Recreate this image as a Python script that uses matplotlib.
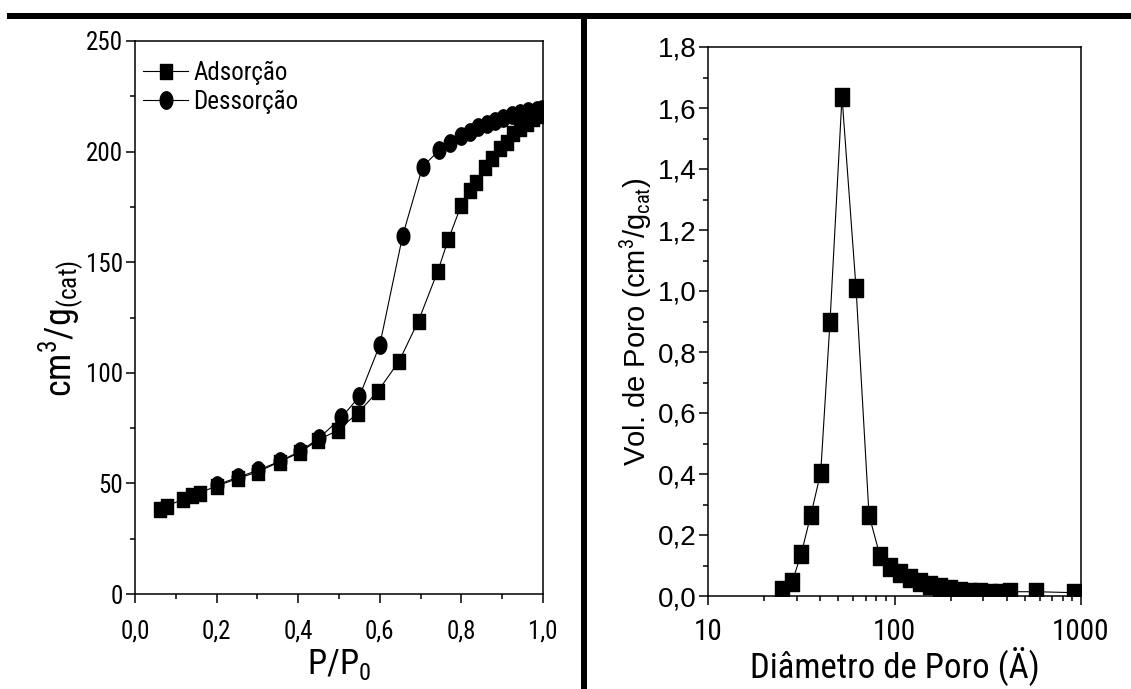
import matplotlib
matplotlib.use("Agg")
import matplotlib.pyplot as plt
import matplotlib.patches as mpatches
from matplotlib.ticker import MultipleLocator, FixedLocator, LogLocator, NullFormatter
import numpy as np

NARROW = ["Roboto Condensed", "Liberation Sans"]
NORMAL = ["Liberation Sans", "DejaVu Sans"]
plt.rcParams["mathtext.fontset"] = "custom"
plt.rcParams["mathtext.rm"] = "Roboto Condensed"

# ── isoterma (esquerda) ────────────────────────────────────────────
p_ads = [0.061, 0.078, 0.118, 0.139, 0.159, 0.200, 0.253, 0.302, 0.355, 0.404,
         0.449, 0.498, 0.547, 0.596, 0.648, 0.695, 0.742, 0.768, 0.800, 0.821,
         0.837, 0.858, 0.874, 0.895, 0.911, 0.927, 0.944, 0.960, 0.976, 0.993]
v_ads = [38.3, 39.8, 42.8, 44.7, 45.8, 48.8, 52.3, 55.3, 59.8, 64.0,
         69.6, 74.1, 82.0, 91.8, 105.5, 123.6, 145.9, 160.3, 175.9, 182.6,
         186.4, 193.0, 197.0, 201.5, 204.5, 208.3, 210.5, 212.8, 215.0, 216.5]

p_des = [0.200, 0.253, 0.302, 0.355, 0.404, 0.450, 0.506, 0.550, 0.600, 0.656,
         0.705, 0.746, 0.772, 0.800, 0.821, 0.841, 0.862, 0.882, 0.903, 0.923,
         0.944, 0.964, 0.985, 0.997]
v_des = [49.3, 52.8, 56.0, 60.0, 64.5, 70.3, 79.8, 89.3, 112.6, 162.0,
         193.2, 200.7, 203.7, 207.0, 208.9, 210.9, 212.4, 213.9, 215.0, 216.5,
         217.6, 218.5, 219.0, 219.4]

# ── distribuição de poros (direita) ────────────────────────────────
diam = [24.8, 28.3, 31.6, 35.6, 40.2, 45.1, 52.3, 62.2, 73.0, 83.6,
        94.6, 107, 121, 137, 155, 175, 198, 224, 254, 287,
        325, 368, 417, 574, 917]
vol = [0.020, 0.047, 0.138, 0.266, 0.404, 0.899, 1.637, 1.009, 0.266, 0.131,
       0.096, 0.074, 0.058, 0.047, 0.036, 0.028, 0.022, 0.017, 0.014, 0.012,
       0.011, 0.009, 0.014, 0.014, 0.011]

left_xticks = [0.0, 0.2, 0.4, 0.6, 0.8, 1.0]
left_yticks = [0, 50, 100, 150, 200, 250]
right_yticks = [0.0, 0.2, 0.4, 0.6, 0.8, 1.0, 1.2, 1.4, 1.6, 1.8]
right_xticks = [10, 100, 1000]


def rect(ratio):
    return [(-ratio / 2, -0.5), (ratio / 2, -0.5), (ratio / 2, 0.5),
            (-ratio / 2, 0.5), (-ratio / 2, -0.5)]


def ellipse(ratio, n=40):
    t = np.linspace(0, 2 * np.pi, n)
    return list(zip(ratio / 2 * np.cos(t), 0.5 * np.sin(t)))


def comma(v):
    return f"{v:.1f}".replace(".", ",")


def style_axis(ax):
    for s in ax.spines.values():
        s.set_linewidth(1.1)
    ax.tick_params(which="both", direction="out", top=False, right=False,
                   width=1.1, pad=2)
    ax.tick_params(which="major", length=6.5)
    ax.tick_params(which="minor", length=3.5)


fig = plt.figure(figsize=(11.31, 6.89), dpi=100)
fig.patch.set_facecolor("white")

# barras pretas da moldura
fig.add_artist(mpatches.Rectangle((7 / 1131, 1 - 19 / 689), 1, 6 / 689,
                                  transform=fig.transFigure, color="black", lw=0))
fig.add_artist(mpatches.Rectangle((581 / 1131, 0), 6 / 1131, 1 - 19 / 689,
                                  transform=fig.transFigure, color="black", lw=0))

# ── painel esquerdo ────────────────────────────────────────────────
ax1 = fig.add_axes([135 / 1131, 1 - 594 / 689, 408 / 1131, 553 / 689])
ax1.plot(p_ads, v_ads, color="black", lw=0.8, marker=rect(0.75), ms=10.8,
         mfc="black", mec="black", label="Adsorção")
ax1.plot(p_des, v_des, color="black", lw=0.8, marker=ellipse(0.73), ms=12.5,
         mfc="black", mec="black", label="Dessorção")
ax1.set_xlim(0, 1.0)
ax1.set_ylim(0, 250)
style_axis(ax1)
ax1.xaxis.set_major_locator(FixedLocator(left_xticks))
ax1.xaxis.set_minor_locator(MultipleLocator(0.1))
ax1.yaxis.set_major_locator(FixedLocator(left_yticks))
ax1.yaxis.set_minor_locator(MultipleLocator(25))
ax1.set_xticklabels([comma(v) for v in left_xticks], family=NARROW, fontsize=18)
ax1.set_yticklabels([str(v) for v in left_yticks], family=NARROW, fontsize=18)
ax1.tick_params(axis="x", pad=12)
ax1.set_xlabel(r"P/P$_{\mathrm{0}}$", family=NARROW, fontsize=25)
ax1.xaxis.set_label_coords(0.5, -0.095)
ax1.set_ylabel(r"cm$^{\mathrm{3}}$/g$_{\mathrm{(cat)}}$", family=NARROW, fontsize=26)
ax1.yaxis.set_label_coords(-0.12, 0.48)
ax1.legend(loc="upper left", bbox_to_anchor=(0.02, 0.965), frameon=False,
           prop={"family": NARROW, "size": 18}, handlelength=1.8,
           handletextpad=0.2, borderaxespad=0, borderpad=0, labelspacing=0.2)

# ── painel direito ─────────────────────────────────────────────────
ax2 = fig.add_axes([708 / 1131, 1 - 596 / 689, 373 / 1131, 549 / 689])
ax2.plot(diam, vol, color="black", lw=0.8, marker=rect(0.77), ms=12.6,
         mfc="black", mec="black")
ax2.set_xscale("log")
ax2.set_xlim(10, 1000)
ax2.set_ylim(0, 1.8)
style_axis(ax2)
ax2.xaxis.set_major_locator(FixedLocator(right_xticks))
ax2.xaxis.set_minor_locator(LogLocator(base=10, subs=np.arange(2, 10)))
ax2.xaxis.set_minor_formatter(NullFormatter())
ax2.yaxis.set_major_locator(FixedLocator(right_yticks))
ax2.yaxis.set_minor_locator(MultipleLocator(0.1))
ax2.set_xticklabels([str(v) for v in right_xticks], family=NARROW, fontsize=21)
ax2.set_yticklabels([comma(v) for v in right_yticks], family=NORMAL, fontsize=20)
ax2.tick_params(axis="x", pad=9)
ax2.set_xlabel("Diâmetro de Poro (Ä)", family=NARROW, fontsize=25)
ax2.xaxis.set_label_coords(0.5, -0.092)
ax2.set_ylabel(r"Vol. de Poro (cm$^{\mathrm{3}}$/g$_{\mathrm{cat}}$)", family=NORMAL,
               fontsize=21)
ax2.yaxis.set_label_coords(-0.145, 0.5)

fig.savefig("out.png", dpi=100, facecolor="white")
